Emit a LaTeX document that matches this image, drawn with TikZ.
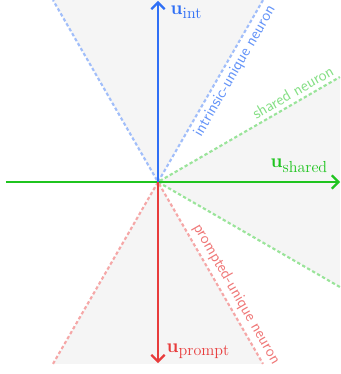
\documentclass[tikz,border=0pt]{standalone}
\usepackage{amsmath, amssymb}
\usepackage{tikz}
\usetikzlibrary{arrows.meta}
\definecolor{intB}{HTML}{2F6FF5}
\definecolor{sharedG}{HTML}{1FC41F}
\definecolor{promptR}{HTML}{E83C3C}
\newcommand{\uvec}[1]{$\mathbf{u}_{\mbox{\large #1}}$}
\tikzset{
	cone/a/.store in=\coneAngle,
	cone/w/.store in=\coneWidth,
	cone/r/.store in=\coneRadius,
	cone/col/.store in=\coneColor,
	% Set default values
	cone/a=90, cone/w=30, cone/r=210, cone/col=gray,
	% Shaded cone around one axis, edges dashed
	pics/cone/.style={
		code={
			\tikzset{cone/.cd, #1}
			\coordinate (-o) at (0,0);
			\coordinate (-a) at (\coneAngle-\coneWidth:\coneRadius);
			\coordinate (-b) at (\coneAngle+\coneWidth:\coneRadius);
			\path[fill=gray!8] (-o) -- (-a) -- (-b) -- cycle;
			\draw[edge=\coneColor] (-a) -- (-o) -- (-b);
		}
	},
	edge/.style={draw=#1!45, line width=1.6pt, dash pattern=on 2.5pt off 1.8pt},
	axis/.style={draw=#1, line width=1.6pt, -{Straight Barb[length=5pt,width=10pt]}},
	neuron/.style={text=#1, font=\sffamily\large, sloped},
	ulabel/.style={text=#1, font=\Large, anchor=base west}
}

\begin{document}
\begin{tikzpicture}[x=0.75pt, y=0.75pt]
	\useasboundingbox (-158,-192) rectangle (183,182);
	\pic (int) at (0,0) {cone={a=90, col=intB}};
	\pic (sh) at (0,0) {cone={a=0, col=sharedG}};
	\pic (pr) at (0,0) {cone={a=-90, col=promptR}};
	% axes
	\coordinate (O) at (0,0);
	\coordinate (west) at (-152,0);
	\coordinate (uint) at (0,181);
	\coordinate (ushared) at (182,0);
	\coordinate (uprompt) at (0,-181);
	\draw[axis=sharedG] (west) -- (ushared);
	\draw[axis=intB] (O) -- (uint);
	\draw[axis=promptR] (O) -- (uprompt);
	\node[ulabel=intB] (lint) at (8,167) {\uvec{int}};
	\node[ulabel=sharedG] (lshared) at (108,14) {\uvec{shared}};
	\node[ulabel=promptR] (lprompt) at (4,-170) {\uvec{prompt}};
	% neuron directions
	\path (int-o) -- (int-a) node[neuron=intB!75, pos=0.64, below] (nint) {intrinsic-unique neuron};
	\path (sh-o) -- (sh-b) node[neuron=sharedG!55, pos=0.77, above] (nsh) {shared neuron};
	\path (pr-o) -- (pr-b) node[neuron=promptR!70, pos=0.65, above] (npr) {prompted-unique neuron};
\end{tikzpicture}
\end{document}
